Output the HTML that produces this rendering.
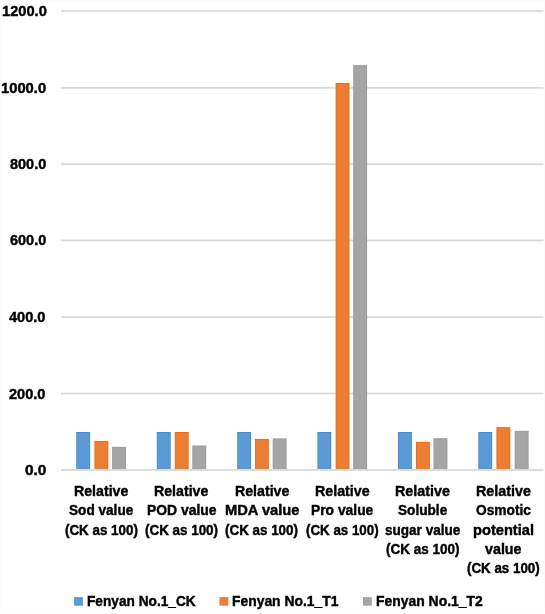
<!DOCTYPE html>
<html><head><meta charset="utf-8"><style>
html,body{margin:0;padding:0;background:#fff;}
body{width:545px;height:614px;position:relative;overflow:hidden;font-family:"Liberation Sans",sans-serif;font-weight:bold;color:#000;}
svg{position:absolute;left:0;top:0;}
#tx{position:absolute;left:0;top:0;width:545px;height:614px;filter:grayscale(1);}
.t{position:absolute;-webkit-text-stroke:0.45px #000;white-space:nowrap;font-size:15.50px;line-height:1;transform-origin:0 0;}
.sq{position:absolute;width:9px;height:9px;}
</style></head><body>

<svg width="545" height="614"><rect x="0" y="0" width="545" height="1" fill="#fbfbfb"/><rect x="544" y="0" width="1" height="614" fill="#fbfbfb"/><rect x="0" y="0" width="1" height="614" fill="#fcfcfc"/><rect x="0" y="613" width="545" height="1" fill="#fcfcfc"/><rect x="61" y="10.10" width="482.5" height="1.8" fill="#d9d9d9"/><rect x="61" y="86.95" width="482.5" height="1.8" fill="#d9d9d9"/><rect x="61" y="163.20" width="482.5" height="1.8" fill="#d9d9d9"/><rect x="61" y="239.50" width="482.5" height="1.8" fill="#d9d9d9"/><rect x="61" y="316.20" width="482.5" height="1.8" fill="#d9d9d9"/><rect x="61" y="392.60" width="482.5" height="1.8" fill="#d9d9d9"/><rect x="76.20" y="432.00" width="13.9" height="37.50" fill="#4A8BD0"/><rect x="77.10" y="432.90" width="12.10" height="36.60" fill="#5B9BD5"/><rect x="94.40" y="441.00" width="13.9" height="28.50" fill="#E8701F"/><rect x="95.30" y="441.90" width="12.10" height="27.60" fill="#ED7D31"/><rect x="112.10" y="446.80" width="13.9" height="22.70" fill="#9A9A9A"/><rect x="113.00" y="447.70" width="12.10" height="21.80" fill="#A5A5A5"/><rect x="156.80" y="432.00" width="13.9" height="37.50" fill="#4A8BD0"/><rect x="157.70" y="432.90" width="12.10" height="36.60" fill="#5B9BD5"/><rect x="174.80" y="432.00" width="13.9" height="37.50" fill="#E8701F"/><rect x="175.70" y="432.90" width="12.10" height="36.60" fill="#ED7D31"/><rect x="192.30" y="445.50" width="13.9" height="24.00" fill="#9A9A9A"/><rect x="193.20" y="446.40" width="12.10" height="23.10" fill="#A5A5A5"/><rect x="237.20" y="432.00" width="13.9" height="37.50" fill="#4A8BD0"/><rect x="238.10" y="432.90" width="12.10" height="36.60" fill="#5B9BD5"/><rect x="255.00" y="439.00" width="13.9" height="30.50" fill="#E8701F"/><rect x="255.90" y="439.90" width="12.10" height="29.60" fill="#ED7D31"/><rect x="272.70" y="438.40" width="13.9" height="31.10" fill="#9A9A9A"/><rect x="273.60" y="439.30" width="12.10" height="30.20" fill="#A5A5A5"/><rect x="317.40" y="432.00" width="13.9" height="37.50" fill="#4A8BD0"/><rect x="318.30" y="432.90" width="12.10" height="36.60" fill="#5B9BD5"/><rect x="335.60" y="83.00" width="13.9" height="386.50" fill="#E8701F"/><rect x="336.50" y="83.90" width="12.10" height="385.60" fill="#ED7D31"/><rect x="353.20" y="65.10" width="13.9" height="404.40" fill="#9A9A9A"/><rect x="354.10" y="66.00" width="12.10" height="403.50" fill="#A5A5A5"/><rect x="398.00" y="432.00" width="13.9" height="37.50" fill="#4A8BD0"/><rect x="398.90" y="432.90" width="12.10" height="36.60" fill="#5B9BD5"/><rect x="416.00" y="441.80" width="13.9" height="27.70" fill="#E8701F"/><rect x="416.90" y="442.70" width="12.10" height="26.80" fill="#ED7D31"/><rect x="433.50" y="438.20" width="13.9" height="31.30" fill="#9A9A9A"/><rect x="434.40" y="439.10" width="12.10" height="30.40" fill="#A5A5A5"/><rect x="478.30" y="432.00" width="13.9" height="37.50" fill="#4A8BD0"/><rect x="479.20" y="432.90" width="12.10" height="36.60" fill="#5B9BD5"/><rect x="496.40" y="427.10" width="13.9" height="42.40" fill="#E8701F"/><rect x="497.30" y="428.00" width="12.10" height="41.50" fill="#ED7D31"/><rect x="514.70" y="430.80" width="13.9" height="38.70" fill="#9A9A9A"/><rect x="515.60" y="431.70" width="12.10" height="37.80" fill="#A5A5A5"/><rect x="61" y="469.00" width="482.5" height="1.8" fill="#d9d9d9"/><rect x="74.1" y="597.1" width="8.8" height="8.6" fill="#5B9BD5"/><rect x="219.5" y="597.1" width="8.8" height="8.6" fill="#ED7D31"/><rect x="363.0" y="597.1" width="8.8" height="8.6" fill="#A5A5A5"/></svg>
<div id="tx">
<div class="t" style="left:1.55px;top:3.00px;transform:scaleX(0.946)">1200.0</div>
<div class="t" style="left:1.25px;top:79.85px;transform:scaleX(0.952)">1000.0</div>
<div class="t" style="left:9.60px;top:156.10px;transform:scaleX(0.933)">800.0</div>
<div class="t" style="left:9.60px;top:232.40px;transform:scaleX(0.933)">600.0</div>
<div class="t" style="left:9.40px;top:309.10px;transform:scaleX(0.938)">400.0</div>
<div class="t" style="left:9.40px;top:385.50px;transform:scaleX(0.938)">200.0</div>
<div class="t" style="left:25.10px;top:461.90px;transform:scaleX(0.995)">0.0</div>
<div class="t" style="left:73.89px;top:483.10px;transform:scaleX(0.914)">Relative</div>
<div class="t" style="left:69.25px;top:502.35px;transform:scaleX(0.878)">Sod value</div>
<div class="t" style="left:64.64px;top:521.60px;transform:scaleX(0.863)">(CK as 100)</div>
<div class="t" style="left:154.19px;top:483.10px;transform:scaleX(0.914)">Relative</div>
<div class="t" style="left:146.60px;top:502.35px;transform:scaleX(0.897)">POD value</div>
<div class="t" style="left:144.83px;top:521.60px;transform:scaleX(0.865)">(CK as 100)</div>
<div class="t" style="left:234.69px;top:483.10px;transform:scaleX(0.914)">Relative</div>
<div class="t" style="left:224.70px;top:502.35px;transform:scaleX(0.947)">MDA value</div>
<div class="t" style="left:225.39px;top:521.60px;transform:scaleX(0.864)">(CK as 100)</div>
<div class="t" style="left:314.68px;top:483.10px;transform:scaleX(0.919)">Relative</div>
<div class="t" style="left:310.56px;top:502.35px;transform:scaleX(0.893)">Pro value</div>
<div class="t" style="left:305.69px;top:521.60px;transform:scaleX(0.860)">(CK as 100)</div>
<div class="t" style="left:395.28px;top:483.10px;transform:scaleX(0.924)">Relative</div>
<div class="t" style="left:398.40px;top:502.35px;transform:scaleX(0.879)">Soluble</div>
<div class="t" style="left:385.40px;top:521.60px;transform:scaleX(0.874)">sugar value</div>
<div class="t" style="left:385.98px;top:540.85px;transform:scaleX(0.871)">(CK as 100)</div>
<div class="t" style="left:475.58px;top:483.10px;transform:scaleX(0.924)">Relative</div>
<div class="t" style="left:475.85px;top:502.35px;transform:scaleX(0.885)">Osmotic</div>
<div class="t" style="left:472.61px;top:521.60px;transform:scaleX(0.944)">potential</div>
<div class="t" style="left:485.35px;top:540.85px;transform:scaleX(0.921)">value</div>
<div class="t" style="left:466.69px;top:560.10px;transform:scaleX(0.861)">(CK as 100)</div>
<div class="t" style="left:86.72px;top:592.90px;transform:scaleX(0.882)">Fenyan No.1_CK</div>
<div class="t" style="left:231.91px;top:592.90px;transform:scaleX(0.895)">Fenyan No.1_T1</div>
<div class="t" style="left:375.50px;top:592.90px;transform:scaleX(0.898)">Fenyan No.1_T2</div>
</div></body></html>
